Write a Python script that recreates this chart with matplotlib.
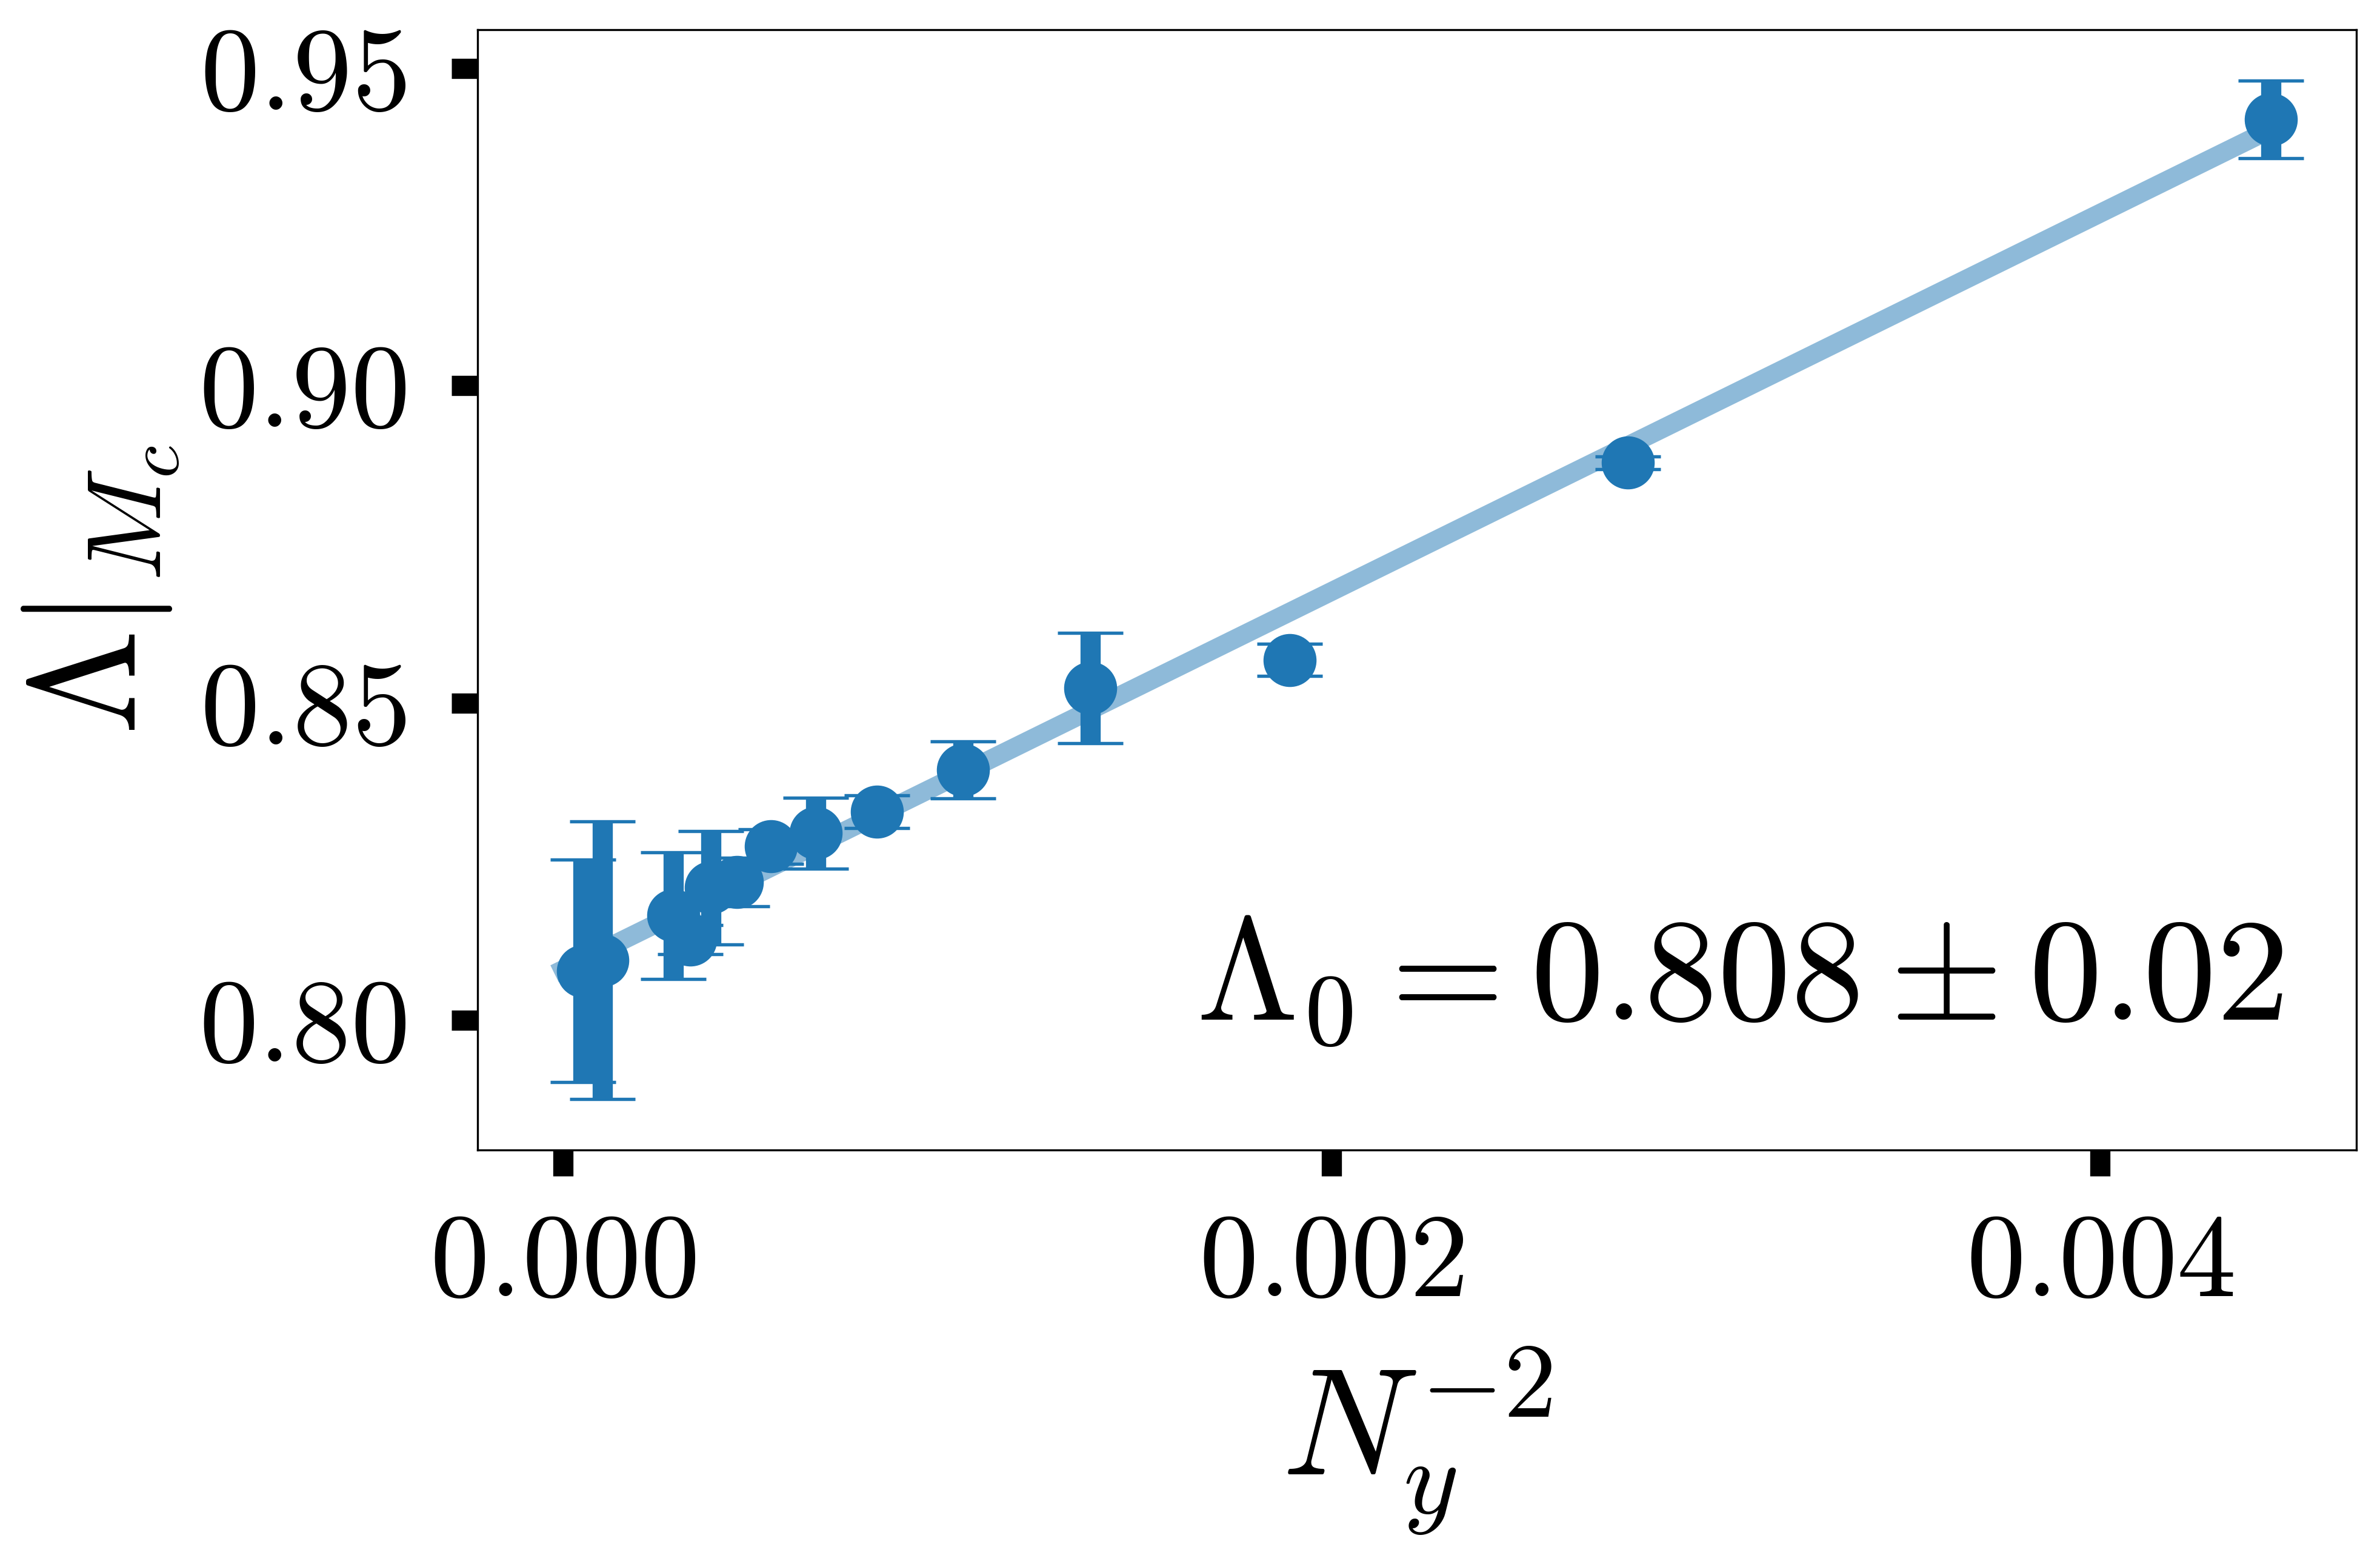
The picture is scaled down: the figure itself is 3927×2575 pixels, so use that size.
import numpy as np
import matplotlib
matplotlib.use('Agg')
import matplotlib.pyplot as plt
from matplotlib.ticker import FormatStrFormatter

plt.rcParams['mathtext.fontset'] = 'cm'
plt.rcParams['font.family'] = 'serif'
plt.rcParams['font.serif'] = ['cmr10', 'DejaVu Serif']
plt.rcParams['axes.formatter.use_mathtext'] = True

# system sizes and Lambda at M_c
Ny = [15, 19, 23, 27, 31, 35, 39, 43, 47, 51, 55, 59, 99, 139]
lam = [0.9420, 0.8879, 0.8568, 0.8524, 0.8395, 0.8329, 0.8295,
       0.8274, 0.8218, 0.8209, 0.8127, 0.8165, 0.8095, 0.8078]
lam_err = [0.0061, 0.0010, 0.0025, 0.0087, 0.0045, 0.0026, 0.0056,
           0.0027, 0.0038, 0.0089, 0.0023, 0.0100, 0.0219, 0.0175]

# linear fit in Ny^-2
fit_intercept = 0.808
fit_slope = 29.8
fit_label = r'$\Lambda_0 = 0.808 \pm 0.02$'

x = 1.0 / np.array(Ny, dtype=float) ** 2
x_fit = np.array([0.0, x.max()])
y_fit = fit_intercept + fit_slope * x_fit

fig = plt.figure(figsize=(3927 / 300, 2575 / 300), dpi=300)
ax = fig.add_axes([0.2007, 0.2633, 0.7894, 0.7177])

ax.plot(x_fit, y_fit, color='#1f77b4', alpha=0.5, lw=7.5, zorder=1)
ax.errorbar(x, lam, yerr=lam_err, fmt='o', color='#1f77b4', ms=20,
            elinewidth=8, capsize=13, capthick=1.3, zorder=2)

ax.text(0.961, 0.116, fit_label, transform=ax.transAxes, ha='right',
        va='baseline', fontsize=58)

ax.set_xticks([0.0, 0.002, 0.004])
ax.set_yticks([0.80, 0.85, 0.90, 0.95])
ax.xaxis.set_major_formatter(FormatStrFormatter('$%.3f$'))
ax.yaxis.set_major_formatter(FormatStrFormatter('$%.2f$'))
ax.tick_params(axis='both', which='major', length=10.3, width=8, labelsize=47)
ax.tick_params(axis='x', pad=15)
ax.tick_params(axis='y', pad=18)

ax.set_xlabel(r'$N_y^{-2}$', fontsize=60, va='top')
ax.set_ylabel(r'$\Lambda|_{M_c}$', fontsize=60)
ax.xaxis.set_label_coords(0.5, -0.174)
ax.yaxis.set_label_coords(-0.158, 0.5)

fig.savefig('out.png', dpi=300)
